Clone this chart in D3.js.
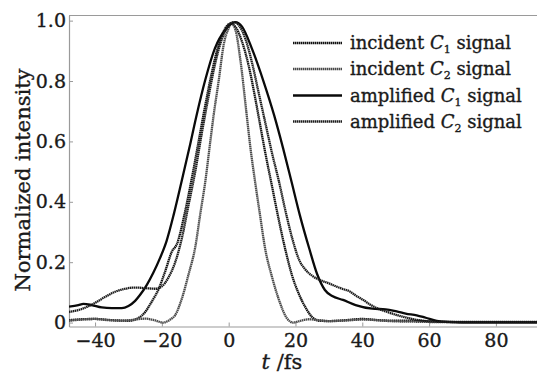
<!DOCTYPE html>
<html>
<head>
<meta charset="utf-8">
<script src="https://cdn.jsdelivr.net/npm/d3@7"></script>
<style>
  html, body { margin: 0; padding: 0; background: #fff; }
  svg { display: block; }
  text { font-family: "DejaVu Serif", "Liberation Serif", serif; fill: #1a1a1a; stroke: #1a1a1a; stroke-width: 0.35px; }
</style>
</head>
<body>
<svg id="chart" width="537" height="375"></svg>
<script>
// Time axis (fs) and normalized intensity samples for each pulse
const xTicks = [-40, -20, 0, 20, 40, 60, 80];
const yTicks = [0, 0.2, 0.4, 0.6, 0.8, 1.0];
const yTickLabels = ["0", "0.2", "0.4", "0.6", "0.8", "1.0"];

// incident C1 signal
const incC1_t = [-47.8, -44, -40, -35, -30, -27, -25, -23, -21, -19, -17, -15.5, -13, -11, -9, -7, -5, -3, -1, 0.5, 2, 4, 6, 8, 9, 11, 13, 15, 17, 19, 21, 23, 25, 27, 30, 35, 40, 45, 50, 55, 60, 70, 92.3];
const incC1_v = [0.008, 0.011, 0.012, 0.008, 0.006, 0.015, 0.035, 0.07, 0.11, 0.17, 0.235, 0.26, 0.37, 0.48, 0.6, 0.72, 0.83, 0.92, 0.975, 0.99, 0.98, 0.93, 0.85, 0.74, 0.68, 0.56, 0.45, 0.34, 0.24, 0.155, 0.095, 0.05, 0.018, 0.006, 0.005, 0.008, 0.012, 0.008, 0.006, 0.006, 0.004, 0.002, 0.002];

// incident C2 signal
const incC2_t = [-47.8, -44, -40, -36, -32, -28, -25, -22, -19.7, -17.5, -16, -14, -12, -10, -8.5, -7, -5.5, -4.5, -3, -1.5, 0, 0.8, 2, 3.5, 5.4, 6.5, 7.9, 9.4, 10.9, 13, 14.9, 17.4, 19.3, 21.5, 24, 27, 30, 34, 38, 41, 45, 50, 55, 60, 70, 92.3];
const incC2_v = [0.006, 0.01, 0.012, 0.008, 0.006, 0.01, 0.013, 0.007, 0.0, 0.01, 0.025, 0.08, 0.16, 0.25, 0.36, 0.467, 0.6, 0.687, 0.8, 0.92, 0.975, 0.99, 0.97, 0.87, 0.687, 0.58, 0.467, 0.355, 0.246, 0.15, 0.08, 0.015, 0.0, 0.006, 0.011, 0.008, 0.005, 0.006, 0.009, 0.01, 0.007, 0.004, 0.003, 0.002, 0.001, 0.001];

// amplified C1 signal
const ampC1_t = [-47.8, -45, -43.5, -41, -38, -35, -32, -30, -28, -26.5, -24.5, -22.6, -20.5, -18.6, -16.4, -14.1, -11.8, -9.6, -7.1, -4.1, -1, 2, 4, 6.9, 10.4, 13.6, 16.3, 18.8, 21.3, 24.1, 26.5, 28.8, 31, 34.2, 38, 43, 47, 50.3, 53, 56.3, 59, 62.3, 66, 70, 92.3];
const ampC1_v = [0.053, 0.058, 0.062, 0.058, 0.05, 0.048, 0.048, 0.055, 0.072, 0.092, 0.125, 0.164, 0.215, 0.27, 0.36, 0.467, 0.577, 0.687, 0.8, 0.909, 0.97, 0.995, 0.98, 0.909, 0.8, 0.687, 0.577, 0.467, 0.356, 0.246, 0.16, 0.108, 0.088, 0.075, 0.058, 0.046, 0.044, 0.037, 0.03, 0.024, 0.016, 0.006, 0.002, 0.001, 0.001];

// amplified C2 signal
const ampC2_t = [-47.8, -44, -40, -37, -34, -31, -28, -25, -22, -20, -18, -16, -14, -12, -10, -8, -6, -4, -2, 0, 1.5, 3, 5, 7, 9, 11, 13, 15, 17, 19, 21, 23, 25, 27.3, 30, 32.3, 34, 36.3, 38, 40.3, 42, 44.3, 47, 50.3, 53, 56.3, 60, 65, 70, 92.3];
const ampC2_v = [0.035, 0.045, 0.065, 0.085, 0.102, 0.112, 0.116, 0.114, 0.112, 0.12, 0.15, 0.2, 0.28, 0.39, 0.5, 0.63, 0.75, 0.86, 0.94, 0.985, 0.995, 0.985, 0.94, 0.86, 0.76, 0.66, 0.56, 0.47, 0.37, 0.28, 0.21, 0.175, 0.155, 0.141, 0.13, 0.119, 0.112, 0.103, 0.09, 0.075, 0.062, 0.048, 0.037, 0.025, 0.017, 0.009, 0.004, 0.002, 0.001, 0.001];

const legendMain = ["incident ", "incident ", "amplified ", "amplified "];
const legendSub = ["1", "2", "1", "2"];

const series = [
  { t: incC1_t, v: incC1_v, color: "#111111", width: 2.3, dash: "1.5,0.5" },
  { t: incC2_t, v: incC2_v, color: "#4a4a4a", width: 2.3, dash: "1.5,0.5" },
  { t: ampC1_t, v: ampC1_v, color: "#0a0a0a", width: 2.3, dash: null },
  { t: ampC2_t, v: ampC2_v, color: "#1c1c1c", width: 2.3, dash: "1.5,0.5" }
];

const svg = d3.select("#chart");
const plotLeft = 69, plotRight = 537, plotTop = 15.5, plotBottom = 326.5;

const x = d3.scaleLinear().domain([-47.8, 92.3]).range([plotLeft, plotRight]);
const y = d3.scaleLinear().domain([-0.013, 1.017]).range([plotBottom, plotTop]);

svg.append("defs").append("clipPath").attr("id", "plot")
  .append("rect").attr("x", plotLeft).attr("y", plotTop)
  .attr("width", plotRight - plotLeft).attr("height", plotBottom - plotTop);

const axisColor = "#9a9a9a";

// frame: top border
svg.append("line").attr("x1", plotLeft).attr("x2", plotRight).attr("y1", plotTop).attr("y2", plotTop)
  .attr("stroke", axisColor).attr("stroke-width", 1.2);

// bottom axis with inward ticks
const gx = svg.append("g").attr("transform", `translate(0,${plotBottom})`)
  .call(d3.axisBottom(x).tickValues(xTicks).tickSizeInner(-4).tickSizeOuter(0)
    .tickFormat(d => d < 0 ? "\u2212" + Math.abs(d) : String(d)));
gx.select(".domain").attr("stroke", axisColor).attr("stroke-width", 1.2);
gx.selectAll(".tick line").attr("stroke", axisColor);
gx.selectAll(".tick text").attr("font-size", 19).attr("font-family", "DejaVu Serif")
  .attr("fill", "#1a1a1a").attr("y", 7).attr("dy", "0.71em");

// left axis with inward ticks
const gy = svg.append("g").attr("transform", `translate(${plotLeft},0)`)
  .call(d3.axisLeft(y).tickValues(yTicks).tickSizeInner(-4).tickSizeOuter(0)
    .tickFormat((d, i) => yTickLabels[i]));
gy.select(".domain").attr("stroke", axisColor).attr("stroke-width", 1.2);
gy.selectAll(".tick line").attr("stroke", axisColor);
gy.selectAll(".tick text").attr("font-size", 19).attr("font-family", "DejaVu Serif")
  .attr("fill", "#1a1a1a").attr("x", -3);

// curves
const line = d3.line().x(d => x(d[0])).y(d => y(d[1])).curve(d3.curveMonotoneX);
const plot = svg.append("g").attr("clip-path", "url(#plot)");
series.forEach(s => {
  const pts = s.t.map((t, i) => [t, s.v[i]]);
  plot.append("path").datum(pts)
    .attr("d", line)
    .attr("fill", "none")
    .attr("stroke", s.color)
    .attr("stroke-width", s.width)
    .attr("stroke-dasharray", s.dash);
});

// legend
const leg = svg.append("g");
const legY = [43, 69, 95.5, 121.5];
series.forEach((s, i) => {
  leg.append("line").attr("x1", 293).attr("x2", 342).attr("y1", legY[i]).attr("y2", legY[i])
    .attr("stroke", s.color).attr("stroke-width", s.width).attr("stroke-dasharray", s.dash);
  const tx = leg.append("text").attr("x", 350).attr("y", legY[i] + 6).attr("font-size", 18);
  tx.append("tspan").text(legendMain[i]);
  tx.append("tspan").attr("font-style", "italic").text("C");
  tx.append("tspan").attr("font-size", 11).attr("dy", 4).text(legendSub[i]);
  tx.append("tspan").attr("dy", -4).text(" signal");
});

// axis titles
svg.append("text")
  .attr("transform", `translate(30,180) rotate(-90)`)
  .attr("text-anchor", "middle").attr("font-size", 21)
  .text("Normalized intensity");

const xt = svg.append("text").attr("x", 282).attr("y", 369)
  .attr("text-anchor", "middle").attr("font-size", 21);
xt.append("tspan").attr("font-style", "italic").text("t");
xt.append("tspan").text(" /fs");
</script>
</body>
</html>
